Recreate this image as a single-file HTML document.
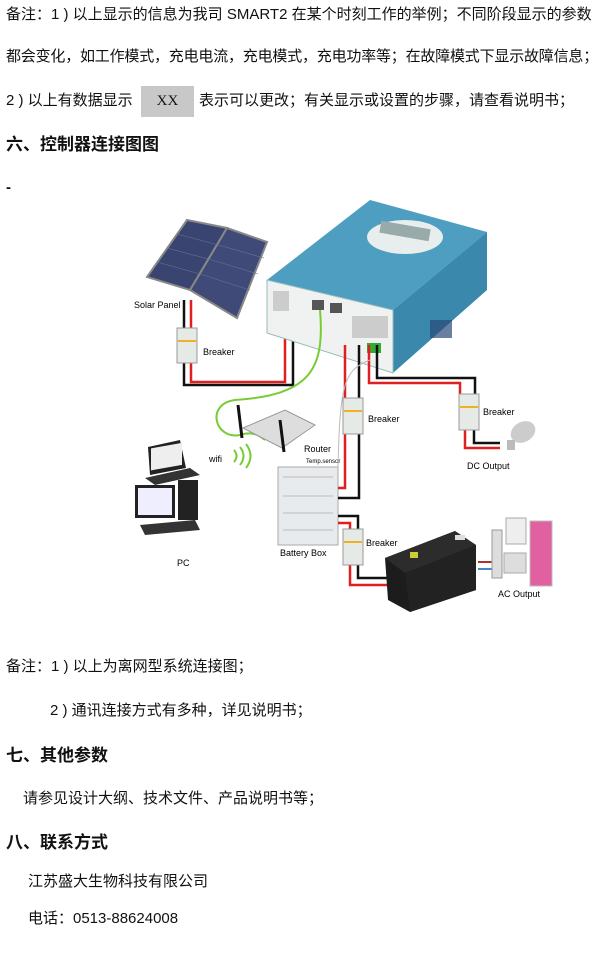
<!DOCTYPE html>
<html><head><meta charset="utf-8"><style>
body{margin:0;width:600px;height:973px;background:#fff;position:relative;overflow:hidden;font-family:"Liberation Sans","Noto Sans CJK SC",sans-serif;color:#111}
.t{position:absolute;font-size:15px;white-space:nowrap;line-height:20px}
.h{position:absolute;font-size:17px;font-weight:bold;white-space:nowrap;line-height:22px}
svg{position:absolute;left:0;top:0}
</style></head><body>
<div class="t" style="left:6px;top:5px;letter-spacing:0px">备注：1 ) 以上显示的信息为我司 SMART2 在某个时刻工作的举例；不同阶段显示的参数</div>
<div class="t" style="left:6px;top:47px;letter-spacing:-0.2px">都会变化，如工作模式，充电电流，充电模式，充电功率等；在故障模式下显示故障信息；</div>
<div class="t" style="left:6px;top:91px">2 ) 以上有数据显示</div>
<div style="position:absolute;left:141px;top:86px;width:53px;height:31px;background:#c8c8c8;font-family:'Liberation Serif',serif;font-size:15px;text-align:center;line-height:31px">XX</div>
<div class="t" style="left:199px;top:91px">表示可以更改；有关显示或设置的步骤，请查看说明书；</div>
<div class="h" style="left:6px;top:134px">六、控制器连接图图</div>
<div class="t" style="left:6px;top:178px;font-weight:bold">-</div>

<svg width="600" height="973" viewBox="0 0 600 973">
<polygon points="147,277 187,220 227,228 190,290" fill="#3a4470" stroke="#888" stroke-width="2"/>
<polygon points="190,290 227,228 267,242 237,318" fill="#404a78" stroke="#888" stroke-width="2"/>
<g stroke="#6a7298" stroke-width="0.6">
<line x1="157" y1="262" x2="200" y2="274"/><line x1="167" y1="248" x2="212" y2="260"/><line x1="177" y1="234" x2="222" y2="246"/>
<line x1="200" y1="274" x2="250" y2="290"/><line x1="212" y1="260" x2="258" y2="274"/><line x1="222" y1="246" x2="264" y2="258"/>
</g>
<text x="134" y="308" font-size="9" font-family="Liberation Sans">Solar Panel</text>
<polyline points="184,300 184,385 293,385 293,318" fill="none" stroke="#111" stroke-width="2.5"/>
<polyline points="191,300 191,382 285,382 285,318" fill="none" stroke="#e02020" stroke-width="2.5"/>
<polygon points="267,280 370,200 487,232 393,310" fill="#4d9ec0"/>
<polygon points="393,310 487,232 487,290 393,373" fill="#3a88ab"/>
<polygon points="267,280 393,310 393,373 267,333" fill="#f0f2f2" stroke="#9bb" stroke-width="1"/>
<ellipse cx="405" cy="237" rx="38" ry="17" fill="#e8eeee"/>
<rect x="380" y="225" width="50" height="12" fill="#9aa" transform="rotate(10 405 231)"/>
<rect x="430" y="320" width="22" height="18" fill="#2a4a7a" opacity="0.7"/>
<rect x="273" y="291" width="16" height="20" fill="#ccc"/>
<rect x="312" y="300" width="12" height="10" fill="#555"/><rect x="330" y="303" width="12" height="10" fill="#555"/>
<rect x="352" y="316" width="36" height="22" fill="#ccc"/>
<rect x="367" y="343" width="14" height="10" fill="#3a3"/>
<path d="M320,310 C325,370 310,395 235,400 C205,404 215,440 240,435 C255,430 262,438 265,440" fill="none" stroke="#7c3" stroke-width="2"/>
<polygon points="243,428 285,410 315,425 282,448" fill="#ddd" stroke="#999"/>
<line x1="238" y1="405" x2="242" y2="438" stroke="#111" stroke-width="3"/>
<line x1="280" y1="420" x2="284" y2="452" stroke="#111" stroke-width="3"/>
<text x="304" y="452" font-size="9" font-family="Liberation Sans">Router</text>
<text x="306" y="463" font-size="6" font-family="Liberation Sans">Temp.sensor</text>
<text x="209" y="462" font-size="9" font-family="Liberation Sans">wifi</text>
<path d="M234,450 q5,6 0,12 M240,447 q7,9 0,18 M246,444 q9,12 0,24" fill="none" stroke="#7c3" stroke-width="2"/>
<polygon points="148,447 180,440 186,468 150,475" fill="#222"/><rect x="151" y="448" width="31" height="22" fill="#eee" transform="skewY(-10) translate(0,27)"/>
<polygon points="145,478 190,468 200,475 155,485" fill="#333"/>
<rect x="135" y="485" width="40" height="33" fill="#222"/><rect x="138" y="488" width="34" height="27" fill="#eef"/>
<rect x="178" y="480" width="20" height="40" fill="#222"/>
<polygon points="140,525 195,520 200,530 145,535" fill="#333"/>
<text x="177" y="566" font-size="9" font-family="Liberation Sans">PC</text>
<rect x="278" y="467" width="60" height="78" fill="#e8ebee" stroke="#aaa"/>
<g stroke="#bbb"><line x1="283" y1="477" x2="333" y2="477"/><line x1="283" y1="496" x2="333" y2="496"/><line x1="283" y1="513" x2="333" y2="513"/><line x1="283" y1="530" x2="333" y2="530"/></g>
<text x="280" y="556" font-size="9" font-family="Liberation Sans">Battery Box</text>
<polyline points="345,345 345,488 338,488" fill="none" stroke="#e02020" stroke-width="2.5"/>
<polyline points="359,345 359,498 338,498" fill="none" stroke="#111" stroke-width="2.5"/>
<polyline points="338,516 358,516 358,540" fill="none" stroke="#111" stroke-width="2.5"/>
<polyline points="338,523 350,523 350,540" fill="none" stroke="#e02020" stroke-width="2.5"/>
<polyline points="350,565 350,585 388,585" fill="none" stroke="#e02020" stroke-width="2.5"/>
<polyline points="358,565 358,578 388,578" fill="none" stroke="#111" stroke-width="2.5"/>
<polyline points="369,345 369,383 460,383 460,395" fill="none" stroke="#e02020" stroke-width="2.5"/>
<polyline points="377,345 377,378 475,378 475,395" fill="none" stroke="#111" stroke-width="2.5"/>
<polyline points="465,430 465,448 500,448" fill="none" stroke="#e02020" stroke-width="2.5"/>
<polyline points="474,430 474,443 500,443" fill="none" stroke="#111" stroke-width="2.5"/>
<path d="M370,360 C345,370 340,380 338,467" fill="none" stroke="#bbb" stroke-width="1"/>
<g fill="#e6eae6" stroke="#999">
<rect x="177" y="328" width="20" height="35"/><rect x="343" y="398" width="20" height="36"/>
<rect x="459" y="394" width="20" height="36"/><rect x="343" y="529" width="20" height="36"/>
</g>
<g fill="#f0b020"><rect x="178" y="340" width="18" height="2"/><rect x="344" y="410" width="18" height="2"/><rect x="460" y="406" width="18" height="2"/><rect x="344" y="541" width="18" height="2"/></g>
<g font-size="9" font-family="Liberation Sans">
<text x="203" y="355">Breaker</text><text x="368" y="422">Breaker</text>
<text x="483" y="415">Breaker</text><text x="366" y="546">Breaker</text>
<text x="467" y="469">DC Output</text><text x="498" y="597">AC Output</text>
</g>
<ellipse cx="523" cy="432" rx="13" ry="10" fill="#ccc" transform="rotate(-30 523 432)"/>
<rect x="507" y="440" width="8" height="10" fill="#bbb"/>
<!-- inverter -->
<polygon points="385,558 455,531 476,545 476,590 410,612 388,600" fill="#1c1c1c"/>
<polygon points="385,558 455,531 476,545 405,573" fill="#2c2c2c"/>
<polygon points="405,573 476,545 476,590 410,612" fill="#222"/>
<rect x="410" y="552" width="8" height="6" fill="#cc3"/>
<rect x="455" y="535" width="10" height="5" fill="#ddd"/>
<line x1="478" y1="562" x2="495" y2="562" stroke="#a33" stroke-width="2"/><line x1="478" y1="569" x2="495" y2="569" stroke="#48c" stroke-width="2"/>
<rect x="492" y="530" width="10" height="48" fill="#ddd" stroke="#999"/>
<rect x="506" y="518" width="20" height="26" fill="#eee" stroke="#aaa"/>
<rect x="504" y="553" width="22" height="20" fill="#ddd" stroke="#aaa"/>
<rect x="530" y="521" width="22" height="65" fill="#e060a0" stroke="#bbb"/>
</svg>

<div class="t" style="left:6px;top:657px">备注：1 ) 以上为离网型系统连接图；</div>
<div class="t" style="left:50px;top:701px">2 ) 通讯连接方式有多种，详见说明书；</div>
<div class="h" style="left:6px;top:745px">七、其他参数</div>
<div class="t" style="left:23px;top:789px">请参见设计大纲、技术文件、产品说明书等；</div>
<div class="h" style="left:6px;top:832px">八、联系方式</div>
<div class="t" style="left:28px;top:872px">江苏盛大生物科技有限公司</div>
<div class="t" style="left:28px;top:909px">电话：0513-88624008</div>
</body></html>
